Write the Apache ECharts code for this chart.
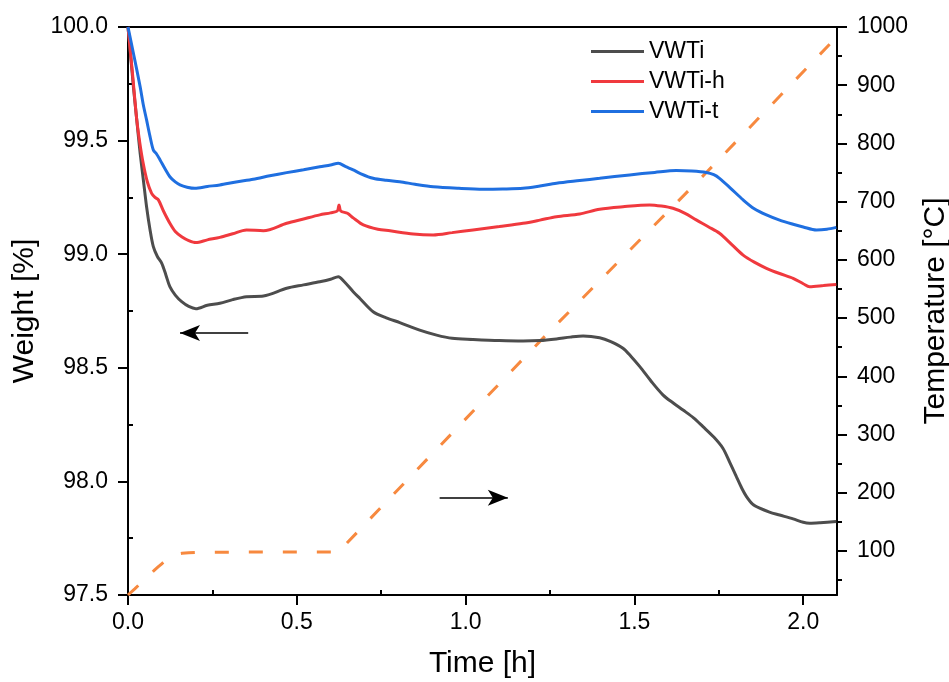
<!DOCTYPE html>
<html>
<head>
<meta charset="utf-8">
<script src="https://cdn.jsdelivr.net/npm/echarts@6/dist/echarts.min.js"></script>
<style>html,body{margin:0;padding:0;background:#fff;}#c{width:949px;height:682px;}</style>
</head>
<body>
<div id="c"></div>
<script>
// ---- data (time [h], value) ----
const vwti = [[0,100],[0.008,99.87],[0.016,99.737],[0.026,99.59],[0.036,99.444],[0.046,99.32],[0.055,99.209],[0.065,99.11],[0.075,99.033],[0.087,98.99],[0.1,98.96],[0.112,98.91],[0.124,98.857],[0.14,98.82],[0.159,98.791],[0.18,98.77],[0.201,98.76],[0.235,98.775],[0.272,98.784],[0.31,98.80],[0.351,98.813],[0.401,98.816],[0.47,98.85],[0.52,98.865],[0.568,98.879],[0.6,98.89],[0.623,98.901],[0.64,98.88],[0.667,98.835],[0.687,98.805],[0.726,98.747],[0.765,98.72],[0.805,98.699],[0.864,98.666],[0.914,98.644],[0.96,98.63],[1.022,98.625],[1.1,98.62],[1.17,98.618],[1.22,98.62],[1.269,98.627],[1.31,98.635],[1.348,98.640],[1.397,98.632],[1.43,98.615],[1.466,98.586],[1.49,98.55],[1.516,98.505],[1.55,98.44],[1.585,98.38],[1.615,98.345],[1.644,98.314],[1.675,98.28],[1.703,98.241],[1.735,98.195],[1.762,98.146],[1.782,98.085],[1.802,98.021],[1.818,97.97],[1.832,97.933],[1.85,97.9],[1.871,97.882],[1.9,97.865],[1.93,97.852],[1.97,97.835],[2.0,97.82],[2.019,97.816],[2.05,97.818],[2.098,97.823]];
const vwtiH = [[0,100],[0.013,99.8],[0.026,99.591],[0.035,99.49],[0.045,99.400],[0.057,99.32],[0.070,99.268],[0.08,99.25],[0.090,99.239],[0.105,99.19],[0.124,99.136],[0.14,99.1],[0.159,99.077],[0.18,99.06],[0.201,99.051],[0.235,99.063],[0.272,99.074],[0.31,99.09],[0.351,99.107],[0.401,99.103],[0.47,99.136],[0.52,99.155],[0.568,99.173],[0.6,99.182],[0.62,99.19],[0.625,99.217],[0.63,99.19],[0.65,99.18],[0.667,99.16],[0.697,99.129],[0.74,99.11],[0.776,99.103],[0.845,99.089],[0.904,99.085],[0.96,99.095],[1.022,99.107],[1.1,99.122],[1.17,99.136],[1.22,99.15],[1.269,99.165],[1.338,99.177],[1.397,99.198],[1.466,99.209],[1.545,99.217],[1.58,99.212],[1.614,99.202],[1.65,99.18],[1.683,99.151],[1.72,99.12],[1.752,99.092],[1.79,99.04],[1.822,98.996],[1.855,98.965],[1.891,98.938],[1.93,98.915],[1.970,98.894],[2.0,98.87],[2.019,98.857],[2.06,98.862],[2.098,98.867]];
const vwtiT = [[0,100],[0.018,99.87],[0.036,99.737],[0.045,99.66],[0.055,99.591],[0.065,99.52],[0.075,99.459],[0.085,99.44],[0.095,99.415],[0.11,99.375],[0.124,99.341],[0.14,99.318],[0.154,99.305],[0.175,99.295],[0.198,99.290],[0.235,99.298],[0.272,99.305],[0.32,99.318],[0.371,99.330],[0.42,99.345],[0.470,99.359],[0.52,99.372],[0.568,99.385],[0.60,99.393],[0.623,99.400],[0.645,99.385],[0.667,99.371],[0.687,99.356],[0.726,99.334],[0.765,99.325],[0.805,99.319],[0.85,99.308],[0.904,99.297],[0.98,99.29],[1.052,99.286],[1.11,99.287],[1.170,99.290],[1.22,99.3],[1.269,99.312],[1.338,99.324],[1.397,99.334],[1.486,99.349],[1.56,99.36],[1.624,99.368],[1.67,99.366],[1.713,99.360],[1.735,99.35],[1.752,99.334],[1.785,99.29],[1.822,99.239],[1.855,99.2],[1.891,99.173],[1.93,99.15],[1.970,99.132],[2.0,99.12],[2.039,99.107],[2.07,99.11],[2.098,99.118]];
const temperature = [[0,24.4],[0.02,35],[0.04,46],[0.06,57],[0.08,68],[0.09,73],[0.10,78],[0.11,83],[0.12,87],[0.13,90.5],[0.14,93],[0.15,95],[0.16,96],[0.18,97],[0.20,97.5],[0.3,98],[0.623,98.3],[1.22,460],[1.713,750],[2.086,975]];

const xTicks = [0, 0.5, 1.0, 1.5, 2.0];
const xMinorTicks = [0.25, 0.75, 1.25, 1.75];
const wTicks = [97.5, 98.0, 98.5, 99.0, 99.5, 100.0];
const wMinorTicks = [97.75, 98.25, 98.75, 99.25, 99.75];
const tTicks = [100, 200, 300, 400, 500, 600, 700, 800, 900, 1000];
const tMinorTicks = [50, 150, 250, 350, 450, 550, 650, 750, 850, 950];
// arrows [x1, y1, x2, y2] in weight coordinates
const arrowLeft = [0.356, 98.653, 0.154, 98.653];
const arrowRight = [0.923, 97.928, 1.125, 97.928];

const FONT = '"Liberation Sans", Arial, sans-serif';
const MINOR_LEN = 5;
const axLine = {show: true, onZero: false, lineStyle: {color: '#000', width: 2}};
const lbl = (vals, fmt, margin) => ({show: true, customValues: vals, formatter: fmt, fontSize: 23, color: '#000', fontFamily: FONT, margin: margin});

const chart = echarts.init(document.getElementById('c'), null, {renderer: 'canvas'});
chart.setOption({
  animation: false,
  backgroundColor: '#fff',
  grid: {left: 128, right: 112, top: 27, bottom: 87, containLabel: false, outerBoundsMode: 'none'},
  legend: {
    orient: 'vertical', left: 586, top: 35, itemWidth: 53, itemHeight: 3, itemGap: 7,
    icon: 'rect',
    textStyle: {fontSize: 23, color: '#000', fontFamily: FONT, lineHeight: 22},
    data: ['VWTi', 'VWTi-h', 'VWTi-t']
  },
  xAxis: [
    {type: 'value', min: 0, max: 2.1, position: 'bottom', axisLine: axLine,
     axisTick: {show: true, customValues: xTicks, length: 10, inside: false, lineStyle: {color: '#000', width: 2}},
     axisLabel: lbl(xTicks, v => v.toFixed(1), 16), splitLine: {show: false},
     name: 'Time [h]', nameLocation: 'middle', nameGap: 54,
     nameTextStyle: {fontSize: 30, color: '#000', fontFamily: FONT}},
    {type: 'value', min: 0, max: 2.1, position: 'bottom', axisLine: {show: false, onZero: false},
     axisTick: {show: true, customValues: xMinorTicks, length: MINOR_LEN, inside: true, lineStyle: {color: '#000', width: 2}},
     axisLabel: {show: false}, splitLine: {show: false}},
    {type: 'value', min: 0, max: 2.1, position: 'top', axisLine: axLine,
     axisTick: {show: false}, axisLabel: {show: false}, splitLine: {show: false}}
  ],
  yAxis: [
    {type: 'value', min: 97.5, max: 100, position: 'left', axisLine: axLine,
     axisTick: {show: true, customValues: wTicks, length: 10, inside: false, lineStyle: {color: '#000', width: 2}},
     axisLabel: lbl(wTicks, v => v.toFixed(1), 20), splitLine: {show: false},
     name: 'Weight [%]', nameLocation: 'middle', nameGap: 79, nameRotate: 90,
     nameTextStyle: {fontSize: 30, color: '#000', fontFamily: FONT}},
    {type: 'value', min: 97.5, max: 100, position: 'left', axisLine: {show: false, onZero: false},
     axisTick: {show: true, customValues: wMinorTicks, length: MINOR_LEN, inside: true, lineStyle: {color: '#000', width: 2}},
     axisLabel: {show: false}, splitLine: {show: false}},
    {type: 'value', min: 24.4, max: 1000, position: 'right', axisLine: axLine,
     axisTick: {show: true, customValues: tTicks, length: 10, inside: false, lineStyle: {color: '#000', width: 2}},
     axisLabel: lbl(tTicks, v => String(v), 20), splitLine: {show: false},
     name: 'Temperature [°C]', nameLocation: 'middle', nameGap: 84, nameRotate: 90,
     nameTextStyle: {fontSize: 30, color: '#000', fontFamily: FONT}},
    {type: 'value', min: 24.4, max: 1000, position: 'right', axisLine: {show: false, onZero: false},
     axisTick: {show: true, customValues: tMinorTicks, length: MINOR_LEN, inside: false, lineStyle: {color: '#000', width: 2}},
     axisLabel: {show: false}, splitLine: {show: false}}
  ],
  series: [
    {name: 'Temperature', type: 'line', xAxisIndex: 0, yAxisIndex: 2, data: temperature,
     showSymbol: false, symbol: 'none', smooth: false, z: 1,
     lineStyle: {color: '#f7893f', width: 3, type: [14, 20]}},
    {name: 'VWTi', type: 'line', xAxisIndex: 0, yAxisIndex: 0, data: vwti,
     symbol: 'none', smooth: 0.3, color: '#4d4d4d', z: 3,
     lineStyle: {color: '#4d4d4d', width: 3},
     markLine: {silent: true, symbol: ['none', 'arrow'], symbolSize: [12, 20], label: {show: false},
       lineStyle: {color: '#000', width: 1.5, type: 'solid'},
       data: [
         [{coord: [arrowLeft[0], arrowLeft[1]]}, {coord: [arrowLeft[2], arrowLeft[3]]}],
         [{coord: [arrowRight[0], arrowRight[1]]}, {coord: [arrowRight[2], arrowRight[3]]}]
       ]}},
    {name: 'VWTi-h', type: 'line', xAxisIndex: 0, yAxisIndex: 0, data: vwtiH,
     symbol: 'none', smooth: 0.3, color: '#f0393e', z: 3,
     lineStyle: {color: '#f0393e', width: 3}},
    {name: 'VWTi-t', type: 'line', xAxisIndex: 0, yAxisIndex: 0, data: vwtiT,
     symbol: 'none', smooth: 0.3, color: '#1f6fe0', z: 3,
     lineStyle: {color: '#1f6fe0', width: 3}}
  ]
});
</script>
</body>
</html>
